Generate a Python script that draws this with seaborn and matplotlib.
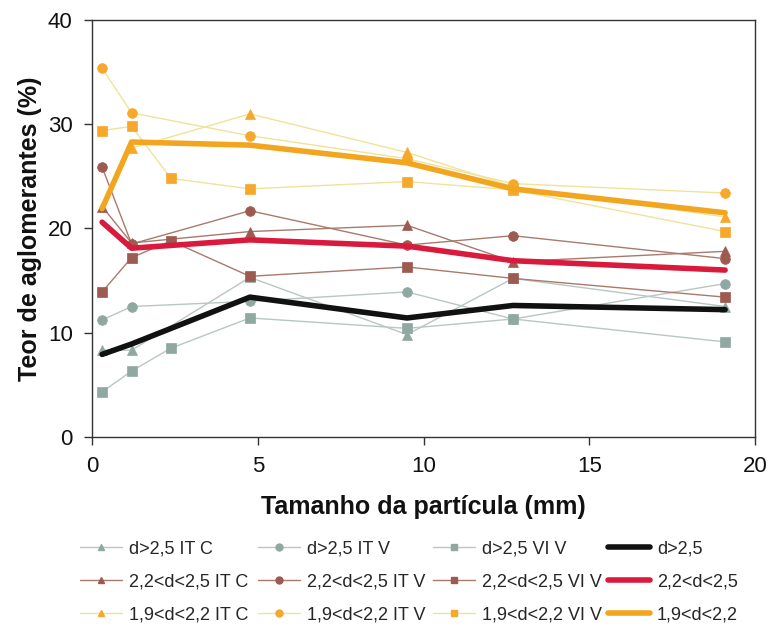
import matplotlib
matplotlib.use("Agg")
import matplotlib.pyplot as plt
import seaborn as sns
from matplotlib.lines import Line2D

sns.set_theme(style="white")
plt.rcParams["font.family"] = ["Liberation Sans Narrow", "Liberation Sans", "DejaVu Sans"]

# Particle sizes (mm)
x_all = [0.3, 1.19, 2.38, 4.76, 9.5, 12.7, 19.1]
x_six = [0.3, 1.19, 4.76, 9.5, 12.7, 19.1]
x_five = [1.19, 4.76, 9.5, 12.7, 19.1]

# d>2,5
d25_itc = [8.3, 8.3, 15.3, 9.8, 15.2, 12.5]
d25_itv = [11.2, 12.5, 13.0, 13.9, 11.3, 14.7]
d25_viv = [4.3, 6.3, 8.5, 11.4, 10.4, 11.3, 9.1]
d25_mean = [7.9, 8.9, 13.4, 11.4, 12.6, 12.2]

# 2,2<d<2,5
d22_itc = [22.1, 18.6, 19.7, 20.3, 16.8, 17.8]
d22_itv = [25.9, 18.5, 21.7, 18.4, 19.3, 17.1]
d22_viv = [13.9, 17.2, 18.8, 15.4, 16.3, 15.2, 13.4]
d22_mean = [20.6, 18.1, 18.9, 18.3, 16.9, 16.0]

# 1,9<d<2,2
d19_itc = [27.7, 31.0, 27.3, 24.0, 21.1]
d19_itv = [35.4, 31.1, 28.9, 26.7, 24.3, 23.4]
d19_viv = [29.4, 29.8, 24.8, 23.8, 24.5, 23.7, 19.7]
d19_mean = [21.9, 28.3, 28.0, 26.3, 23.8, 21.5]

labels = [
    "d>2,5 IT C", "d>2,5 IT V", "d>2,5 VI V", "d>2,5",
    "2,2<d<2,5 IT C", "2,2<d<2,5 IT V", "2,2<d<2,5 VI V", "2,2<d<2,5",
    "1,9<d<2,2 IT C", "1,9<d<2,2 IT V", "1,9<d<2,2 VI V", "1,9<d<2,2",
]

grey_line, grey_mark = "#b9c6c2", "#8fa9a2"
brown_line, brown_mark = "#a87a6c", "#9c5a50"
orange_line, orange_mark = "#efe39a", "#f5a82a"

series = [
    (x_six, d25_itc, "^", grey_line, grey_mark, None),
    (x_six, d25_itv, "o", grey_line, grey_mark, None),
    (x_all, d25_viv, "s", grey_line, grey_mark, None),
    (x_six, d25_mean, None, "#111111", None, 4.0),
    (x_six, d22_itc, "^", brown_line, brown_mark, None),
    (x_six, d22_itv, "o", brown_line, brown_mark, None),
    (x_all, d22_viv, "s", brown_line, brown_mark, None),
    (x_six, d22_mean, None, "#d91a3c", None, 4.0),
    (x_five, d19_itc, "^", orange_line, orange_mark, None),
    (x_six, d19_itv, "o", orange_line, orange_mark, None),
    (x_all, d19_viv, "s", orange_line, orange_mark, None),
    (x_six, d19_mean, None, "#f2a51e", None, 4.0),
]

fig = plt.figure(figsize=(7.68, 6.31), dpi=100)
ax = fig.add_axes([0.12, 0.308, 0.863, 0.66])

handles = []
for (xs, ys, mk, lc, mc, lw), lab in zip(series, labels):
    if mk is None:
        sns.lineplot(x=xs, y=ys, ax=ax, color=lc, linewidth=lw, sort=False,
                     zorder=3)
        handles.append(Line2D([], [], color=lc, linewidth=lw))
    else:
        sns.lineplot(x=xs, y=ys, ax=ax, color=lc, linewidth=1.0, sort=False,
                     marker=mk, markersize=7, markerfacecolor=mc,
                     markeredgecolor=mc, markeredgewidth=0.5, zorder=2)
        handles.append(Line2D([], [], color=lc, linewidth=1.0, marker=mk,
                              markersize=5, markerfacecolor=mc,
                              markeredgecolor=mc))

ax.set_xlim(0, 20)
ax.set_ylim(0, 40)
ax.set_xticks([0, 5, 10, 15, 20])
ax.set_yticks([0, 10, 20, 30, 40])
for s in ax.spines.values():
    s.set_color("#333333")
    s.set_linewidth(1.0)
ax.tick_params(axis="both", direction="out", length=6, width=1.0,
               color="#333333", labelsize=16, labelcolor="#111111",
               bottom=True, left=True, pad=8)
ax.set_xlabel("Tamanho da partícula (mm)", fontsize=18, fontweight="bold",
              color="#111111", labelpad=13,
              family=["Liberation Sans", "DejaVu Sans"])
ax.set_ylabel("Teor de aglomerantes (%)", fontsize=18, fontweight="bold",
              color="#111111", labelpad=4,
              family=["Liberation Sans", "DejaVu Sans"])

# one legend per column, rows grouped by density class
col_x = [80, 258, 433, 608]
for c in range(4):
    idx = [c, c + 4, c + 8]
    leg = fig.legend([handles[i] for i in idx], [labels[i] for i in idx],
                     loc="upper left", bbox_to_anchor=(col_x[c] / 768, 1 - 540 / 631),
                     frameon=False, fontsize=13, handlelength=2.3,
                     handletextpad=0.4, labelspacing=0.9,
                     borderpad=0, borderaxespad=0)

fig.savefig("out.png", dpi=100)
